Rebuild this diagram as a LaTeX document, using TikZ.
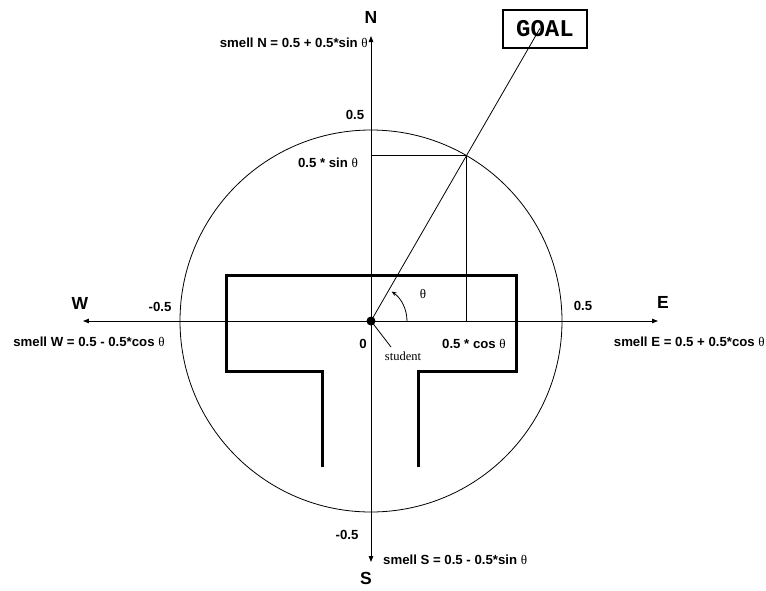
\documentclass[tikz,border=0pt]{standalone}
\usepackage{fontspec}
\setmainfont{Liberation Serif}
\newfontfamily\labelfont{Liberation Sans}
\newfontfamily\goalfont{Liberation Mono}
\usetikzlibrary{arrows.meta}
\newcommand{\thsym}{{\rmfamily\mdseries θ}}
\tikzset{
  lbl/.style={font=\labelfont\bfseries\fontsize{13.2}{15}\selectfont, inner sep=0pt},
  dirlbl/.style={font=\labelfont\bfseries\fontsize{17.5}{19}\selectfont, inner sep=0pt},
  wall/.style={line width=3pt, line join=miter},
  thinline/.style={line width=0.8pt},
  axis/.style={line width=0.9pt, -{Triangle[length=6pt,width=4.5pt]}},
}

\begin{document}
\begin{tikzpicture}[x=1pt,y=1pt]
  \useasboundingbox (-371,-269) rectangle (395,321);
  \coordinate (student) at (0,0);
  \coordinate (ntip) at (0,285);
  \coordinate (stip) at (0,-241);
  \coordinate (wtip) at (-288,0);
  \coordinate (etip) at (287,0);
  \coordinate (goalpt) at (60:191);
  \coordinate (goalend) at (60:338);
  \coordinate (stptr) at (20,-26);

  \draw[thinline] (student) circle (191);

  \draw[wall] (-48,-146) -- (-48,-50) -- (-144,-50) -- (-144,46) -- (145,46)
    -- (145,-50) -- (48,-50) -- (48,-146);

  \draw[axis] (student) -- (ntip);
  \draw[axis] (student) -- (stip);
  \draw[axis] (student) -- (wtip);
  \draw[axis] (student) -- (etip);

  \draw[thinline] (student) -- (goalend);
  \draw[thinline] (goalpt) -- (goalpt |- student);
  \draw[thinline] (goalpt) -- (goalpt -| student);
  \draw[thinline, -{Stealth[length=5pt,width=4pt]}] (36,0) arc[start angle=0, end angle=55, radius=36];

  \node[draw, line width=2.6pt, minimum width=84pt, minimum height=38pt, inner sep=0pt,
    font=\goalfont\bfseries\fontsize{24}{26}\selectfont] (goal) at (174,292) {GOAL};

  \fill (student) circle (4.5);
  \node[font=\fontsize{12.5}{14}\selectfont, inner sep=0pt] (stlabel) at (32,-35) {student};
  \draw[thinline] (student) -- (stptr);

  \node[dirlbl] (nlabel) at (0,304) {N};
  \node[dirlbl] (slabel) at (-5,-257) {S};
  \node[dirlbl] (wlabel) at (-291,18) {W};
  \node[dirlbl] (elabel) at (292,19) {E};

  \node[lbl, anchor=east] (smelln) at (-3,278) {smell N = 0.5 + 0.5*sin \thsym};
  \node[lbl, anchor=west] (smells) at (12,-239) {smell S = 0.5 - 0.5*sin \thsym};
  \node[lbl] (smellw) at (-282,-21) {smell W = 0.5 - 0.5*cos \thsym};
  \node[lbl, anchor=east] (smelle) at (394,-21) {smell E = 0.5 + 0.5*cos \thsym};

  \node[lbl] (ntick) at (-16,206) {0.5};
  \node[lbl] (stick) at (-24,-214) {-0.5};
  \node[lbl] (wtick) at (-211,14) {-0.5};
  \node[lbl] (etick) at (212,15) {0.5};
  \node[lbl] (zero) at (-8,-23) {0};
  \node[lbl] (sinlbl) at (-43,158) {0.5 * sin \thsym};
  \node[lbl] (coslbl) at (103,-23) {0.5 * cos \thsym};
  \node[font=\fontsize{13}{14}\selectfont, inner sep=0pt] (thlbl) at (52,27) {θ};
\end{tikzpicture}
\end{document}
